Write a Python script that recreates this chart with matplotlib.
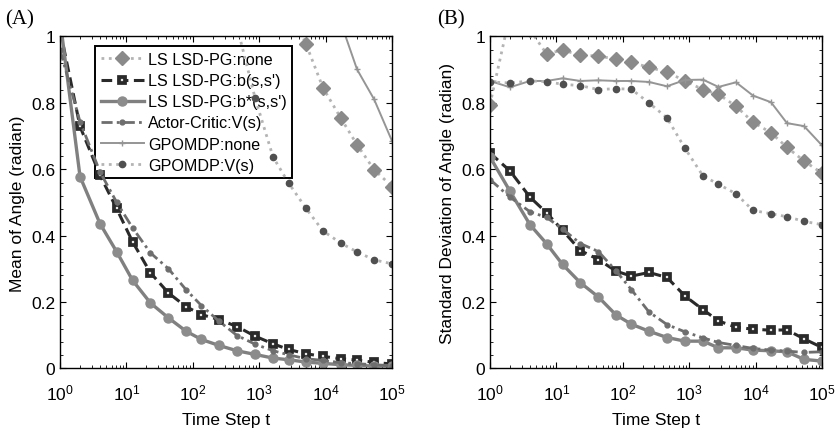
import matplotlib
matplotlib.use("Agg")
import matplotlib.pyplot as plt
from matplotlib.ticker import FixedLocator, LogLocator, MultipleLocator, NullFormatter

plt.rcParams['font.family'] = ['Liberation Sans', 'DejaVu Sans']
plt.rcParams['mathtext.default'] = 'regular'

# time steps (log spaced)
t = [1, 2, 4, 7.1, 12.4, 23, 43, 79, 135, 248, 463, 865, 1614, 2760, 5070,
     9140, 17060, 29700, 53600, 100000]

# (A) mean of angle
none_mean = [1.60, 1.58, 1.55, 1.52, 1.50, 1.47, 1.44, 1.40, 1.35, 1.30, 1.25,
             1.20, 1.15, 1.10, 0.977, 0.845, 0.753, 0.674, 0.599, 0.548]
b_mean = [1.02, 0.729, 0.582, 0.482, 0.381, 0.288, 0.227, 0.186, 0.162, 0.147,
          0.126, 0.097, 0.074, 0.057, 0.044, 0.036, 0.029, 0.025, 0.018, 0.013]
bstar_mean = [1.05, 0.578, 0.436, 0.352, 0.265, 0.197, 0.152, 0.112, 0.087, 0.069,
              0.053, 0.042, 0.031, 0.026, 0.019, 0.015, 0.011, 0.009, 0.007, 0.007]
ac_mean = [0.96, 0.743, 0.592, 0.501, 0.423, 0.348, 0.300, 0.237, 0.189, 0.142,
           0.099, 0.073, 0.053, 0.041, 0.029, 0.024, 0.017, 0.014, 0.011, 0.008]
gnone_mean = [1.80, 1.78, 1.75, 1.72, 1.70, 1.66, 1.62, 1.58, 1.54, 1.50, 1.45,
              1.40, 1.34, 1.27, 1.20, 1.13, 1.04, 0.901, 0.811, 0.685]
gv_mean = [1.60, 1.55, 1.50, 1.45, 1.38, 1.32, 1.26, 1.20, 1.15, 1.10, 1.03,
           0.815, 0.637, 0.559, 0.482, 0.414, 0.377, 0.351, 0.327, 0.315]

# (B) standard deviation of angle
none_std = [0.795, 1.066, 1.02, 0.948, 0.959, 0.944, 0.941, 0.932, 0.922, 0.907,
            0.893, 0.866, 0.840, 0.826, 0.790, 0.742, 0.710, 0.666, 0.625, 0.588]
b_std = [0.649, 0.595, 0.516, 0.469, 0.416, 0.355, 0.328, 0.293, 0.278, 0.289,
         0.274, 0.218, 0.177, 0.143, 0.124, 0.118, 0.115, 0.116, 0.089, 0.063]
bstar_std = [0.637, 0.534, 0.433, 0.376, 0.313, 0.258, 0.215, 0.161, 0.133, 0.112,
             0.093, 0.082, 0.082, 0.062, 0.062, 0.055, 0.053, 0.050, 0.027, 0.022]
ac_std = [0.569, 0.516, 0.472, 0.455, 0.420, 0.376, 0.352, 0.294, 0.237, 0.170,
          0.132, 0.110, 0.092, 0.078, 0.069, 0.060, 0.055, 0.052, 0.048, 0.050]
gnone_std = [0.866, 0.847, 0.866, 0.866, 0.874, 0.866, 0.868, 0.866, 0.866, 0.863,
             0.850, 0.869, 0.870, 0.848, 0.862, 0.822, 0.802, 0.739, 0.730, 0.672]
gv_std = [0.863, 0.860, 0.866, 0.864, 0.856, 0.852, 0.840, 0.843, 0.841, 0.800,
          0.755, 0.663, 0.580, 0.555, 0.526, 0.476, 0.466, 0.457, 0.443, 0.433]

labels = ["LS LSD-PG:none", "LS LSD-PG:b(s,s')", "LS LSD-PG:b*(s,s')",
          "Actor-Critic:V(s)", "GPOMDP:none", "GPOMDP:V(s)"]

styles = [
    dict(color='#b4b4b4', ls=':', lw=2.0, marker='D', ms=7.5, mfc='#8a8a8a', mec='#8a8a8a'),
    dict(color='#2a2a2a', ls=(0, (3.5, 1.8)), lw=2.2, marker='s', ms=5, mfc='#e8e8e8',
         mec='#2a2a2a', mew=2.7),
    dict(color='#808080', ls='-', lw=2.4, marker='o', ms=6.5, mfc='#8c8c8c', mec='#8c8c8c'),
    dict(color='#6e6e6e', ls=(0, (4, 1.5, 1, 1.5)), lw=2.0, marker='o', ms=3.5,
         mfc='#6e6e6e', mec='#6e6e6e'),
    dict(color='#959595', ls='-', lw=1.4, marker='+', ms=4.5, mfc='#959595', mec='#959595'),
    dict(color='#b4b4b4', ls=':', lw=2.0, marker='o', ms=4.5, mfc='#505050', mec='#505050'),
]


def style_axis(ax, ylabel):
    ax.set_xscale('log')
    ax.set_xlim(1, 1e5)
    ax.set_ylim(0, 1)
    ax.xaxis.set_major_locator(FixedLocator([1, 10, 100, 1e3, 1e4, 1e5]))
    ax.set_xticklabels(['$10^{%d}$' % i for i in range(6)])
    ax.xaxis.set_minor_locator(LogLocator(base=10, subs=range(2, 10)))
    ax.xaxis.set_minor_formatter(NullFormatter())
    ax.set_yticks([0, 0.2, 0.4, 0.6, 0.8, 1])
    ax.set_yticklabels(['0', '0.2', '0.4', '0.6', '0.8', '1'])
    ax.yaxis.set_minor_locator(MultipleLocator(0.04))
    ax.tick_params(which='both', direction='in', top=True, right=True, labelsize=12.5)
    ax.tick_params(which='major', length=4, width=0.8)
    ax.tick_params(which='minor', length=2, width=0.6)
    ax.tick_params(axis='x', pad=10)
    ax.set_xlabel('Time Step t', fontsize=12.5, labelpad=7)
    ax.set_ylabel(ylabel, fontsize=12.5)
    for s in ax.spines.values():
        s.set_linewidth(1.0)


fig = plt.figure(figsize=(8.35, 4.31), dpi=100)
axA = fig.add_axes([0.0719, 0.143, 0.3976, 0.770])
axB = fig.add_axes([0.5868, 0.143, 0.3976, 0.770])

series_A = [none_mean, b_mean, bstar_mean, ac_mean, gnone_mean, gv_mean]
series_B = [none_std, b_std, bstar_std, ac_std, gnone_std, gv_std]

for ys, lab, st in zip(series_A, labels, styles):
    axA.plot(t, ys, label=lab, **st)
for ys, lab, st in zip(series_B, labels, styles):
    axB.plot(t, ys, label=lab, **st)

style_axis(axA, 'Mean of Angle (radian)')
style_axis(axB, 'Standard Deviation of Angle (radian)')

leg = axA.legend(loc='upper left', bbox_to_anchor=(0.105, 0.97), fontsize=11.6,
                 handlelength=2.7, handletextpad=0.25, labelspacing=0.38,
                 borderpad=0.35, borderaxespad=0, fancybox=False)
frame = leg.get_frame()
frame.set_facecolor('none')
frame.set_edgecolor('black')
frame.set_linewidth(1.4)
frame.set_alpha(1)
leg.set_zorder(1)

fig.text(0.006, 0.955, '(A)', fontsize=15, family='Liberation Serif', va='center')
fig.text(0.523, 0.955, '(B)', fontsize=15, family='Liberation Serif', va='center')

fig.savefig('out.png', dpi=100)
